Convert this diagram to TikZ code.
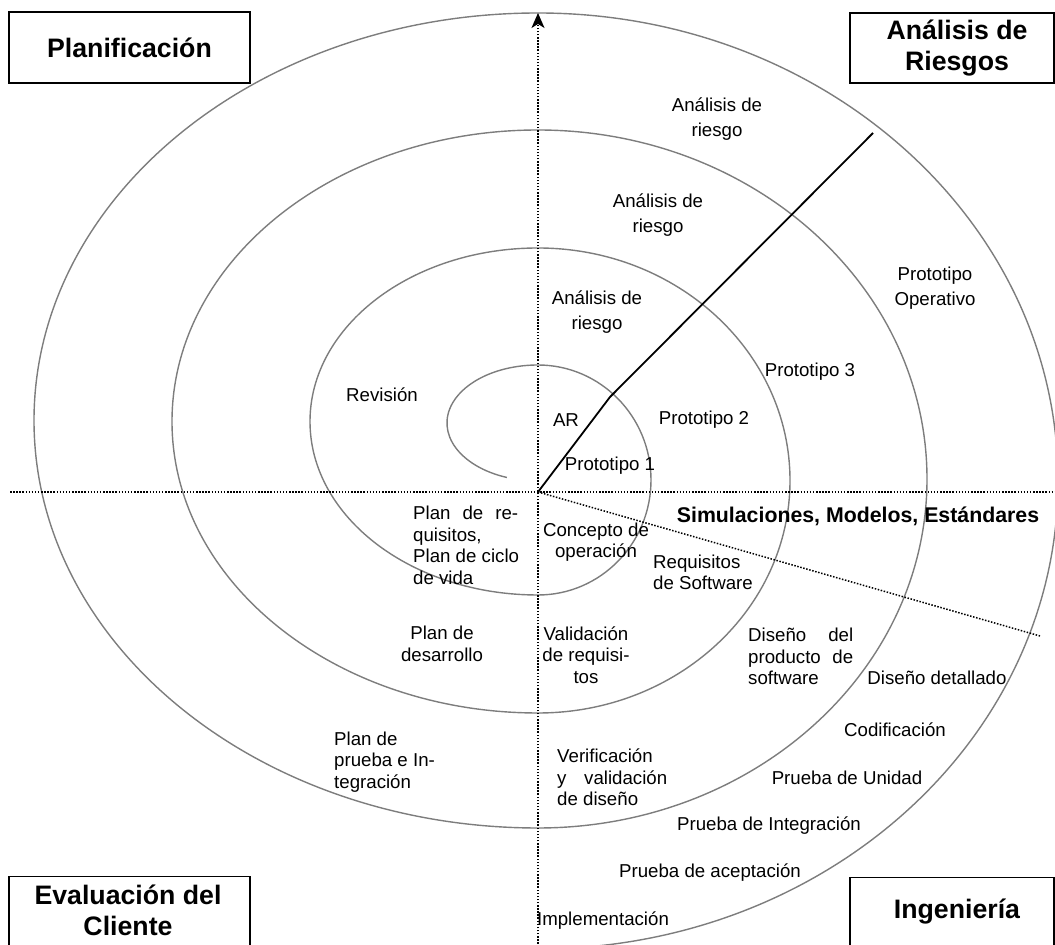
\documentclass[tikz,border=0pt]{standalone}
\usepackage{fontspec}
\setmainfont{Liberation Sans}
\usetikzlibrary{arrows.meta}

\tikzset{
  spiralline/.style={draw={rgb,255:red,125;green,125;blue,125}, line width=1.4pt},
  axisline/.style={draw=black, line width=1.5pt, dash pattern=on 1.5pt off 1.6pt},
  riskline/.style={draw=black, line width=1.8pt},
  phasebox/.style={draw=black, fill=white, line width=1.5pt, inner sep=0pt},
  phasetext/.style={font=\fontsize{26.7}{30.5}\selectfont\bfseries, align=center, inner sep=0pt},
  lbl/.style={font=\fontsize{18.67}{21.5}\selectfont, align=center, inner sep=0pt},
  lblwide/.style={font=\fontsize{18.67}{25}\selectfont, align=center, inner sep=0pt},
  lblleft/.style={font=\fontsize{18.67}{21.5}\selectfont, align=left, inner sep=0pt},
  simlbl/.style={font=\fontsize{21.3}{24.5}\selectfont\bfseries, inner sep=0pt},
}
% a line spread to a fixed width, as in a justified paragraph
\newcommand{\spreadline}[2]{\makebox[#1][s]{#2}}

\begin{document}
\begin{tikzpicture}[x=1pt, y=1pt]
\useasboundingbox (0,0) rectangle (1055,945);
\begin{scope}
\clip (0,0) rectangle (1055,945);

% centre of the model and the spiral's inner end
\coordinate (O) at (538,453);
\coordinate (spiralstart) at ([shift={(250:91 and 58)}]538,522);

% the spiral, built from half ellipses that meet on the vertical axis
\draw[spiralline] (spiralstart)
  arc[start angle=250, end angle=90,  x radius=91,  y radius=58]
  arc[start angle=90,  end angle=-90, x radius=113, y radius=115]
  arc[start angle=270, end angle=90,  x radius=228, y radius=173.5]
  arc[start angle=90,  end angle=-90, x radius=252, y radius=232.5]
  arc[start angle=270, end angle=90,  x radius=366, y radius=291.5]
  arc[start angle=90,  end angle=-90, x radius=389, y radius=349]
  arc[start angle=270, end angle=90,  x radius=504, y radius=407.5]
  arc[start angle=90,  end angle=-88, x radius=520, y radius=468];

% axes
\coordinate (axL) at (10,453);
\coordinate (axR) at (1055,453);
\coordinate (axB) at (538,-5);
\coordinate (axT) at (538,932);
\draw[axisline] (axL) -- (axR);
\draw[axisline, -{Stealth[length=15pt, width=13pt, inset=4pt]}] (axB) -- (axT);

% risk-analysis boundary
\coordinate (kink) at (610,548);
\coordinate (riskend) at (873,812);
\draw[riskline] (O) -- (kink) -- (riskend);

% engineering boundary
\coordinate (engend) at (1040,309);
\draw[axisline] (O) -- (engend);

% quadrant titles
\node[phasebox, minimum width=241pt, minimum height=71pt, phasetext] (plan) at (129.5,897.5) {Planificación};
\node[phasebox, minimum width=204pt, minimum height=70pt] (riskbox) at (952,897) {};
\node[phasetext] (risktxt) at (957,897) {Análisis de\\Riesgos};
\node[phasebox, minimum width=241pt, minimum height=100pt, anchor=north] (evalbox) at (129.5,69) {};
\node[phasetext] (evaltxt) at (128,34.5) {Evaluación del\\Cliente};
\node[phasebox, minimum width=204pt, minimum height=100pt, anchor=north] (engbox) at (952,68) {};
\node[phasetext] (engtxt) at (957,33) {Ingeniería};

% upper half labels
\node[lblwide] (ar3) at (717,825.5) {Análisis de\\riesgo};
\node[lblwide] (ar2) at (658,729.5) {Análisis de\\riesgo};
\node[lblwide] (ar1) at (597,633) {Análisis de\\riesgo};
\node[lbl] (rev) at (382,550) {Revisión};
\node[lbl] (ar0) at (566,525) {AR};
\node[lbl] (p2) at (704,525) {Prototipo 2};
\node[lbl] (p1) at (610,479) {Prototipo 1};
\node[lbl] (p3) at (810,573) {Prototipo 3};
\node[lblwide] (pop) at (935,657) {Prototipo\\Operativo};
\node[simlbl] (sim) at (858,429) {Simulaciones, Modelos, Estándares};

% lower half labels
\node[lblleft, anchor=west] (planreq) at (413,399.5)
  {\spreadline{105pt}{Plan de re-}\\quisitos,\\Plan de ciclo\\de vida};
\node[lbl] (concepto) at (596,403) {Concepto de\\operación};
\node[lblleft, anchor=west] (reqsw) at (653,372.5) {Requisitos\\de Software};
\node[lbl] (plandes) at (442,301) {Plan de\\desarrollo};
\node[lbl] (valid) at (586,290) {Validación\\de requisi-\\tos};
\node[lblleft, anchor=west] (disprod) at (748,288.5)
  {\spreadline{105pt}{Diseño del}\\\spreadline{105pt}{producto de}\\software};
\node[lbl] (disdet) at (937,267) {Diseño detallado};
\node[lbl] (codif) at (895,215) {Codificación};
\node[lbl] (punidad) at (847,167) {Prueba de Unidad};
\node[lbl] (pinteg) at (769,119) {Prueba de Integración};
\node[lbl] (pacep) at (710,72) {Prueba de aceptación};
\node[lbl] (impl) at (603,24) {Implementación};
\node[lblleft, anchor=west] (verif) at (557,167.5)
  {Verificación\\\spreadline{110pt}{y validación}\\de diseño};
\node[lblleft, anchor=west] (planprueba) at (334,183)
  {Plan de\\prueba e In-\\tegración};
\end{scope}
\end{tikzpicture}
\end{document}
